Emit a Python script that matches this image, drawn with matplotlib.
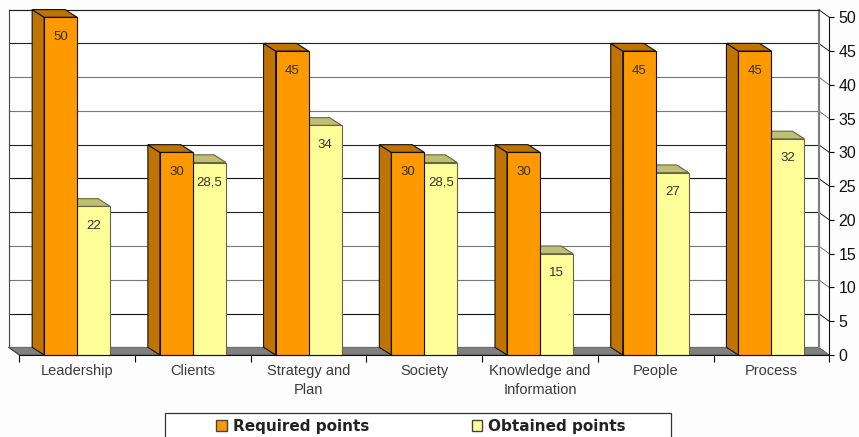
import matplotlib
matplotlib.use('Agg')
import matplotlib.pyplot as plt
from matplotlib.patches import Patch, Rectangle

plt.rcParams['font.family'] = ['Liberation Sans', 'DejaVu Sans']

# chart data
categories = ['Leadership', 'Clients', 'Strategy and\nPlan', 'Society',
              'Knowledge and\nInformation', 'People', 'Process']
required = [50, 30, 45, 30, 30, 45, 45]
obtained = [22, 28.5, 34, 28.5, 15, 27, 32]
y_ticks = [0, 5, 10, 15, 20, 25, 30, 35, 40, 45, 50]
grid_colors = ['#222222', '#111111', '#777777', '#777777', '#222222',
               '#111111', '#222222', '#777777', '#777777', '#222222', '#222222']

W, H = 859, 437
fig = plt.figure(figsize=(W / 100, H / 100), dpi=100, facecolor='#fdfdfd')
# front plane of the 3d box
left, right, bottom, top = 19.3, 829.3, 355.0, 17.3
ax = fig.add_axes([left / W, 1 - bottom / H, (right - left) / W, (bottom - top) / H])
ax.set_xlim(0, len(categories))
ax.set_ylim(0, 50)
ax.patch.set_visible(False)

# depth of the box and bars, in data units
dx = -10.6 / (right - left) * len(categories)
dy = 7.7 / (bottom - top) * 50
bdx = -12 / (right - left) * len(categories)
bar_w = 33 / (right - left) * len(categories)
n = len(categories)


def poly(xs, ys, face, edge=None, lw=0.8, z=2):
    ax.fill(xs, ys, facecolor=face, edgecolor=edge if edge else face, linewidth=lw,
            zorder=z, clip_on=False, joinstyle='miter')


# back wall, right wall, floor
poly([dx, n + dx, n + dx, dx], [dy, dy, 50 + dy, 50 + dy], 'white', 'none', z=0)
poly([n + dx, n, n, n + dx], [dy, 0, 50, 50 + dy], 'white', 'none', z=0)
poly([dx, n + dx, n, 0], [dy, dy, 0, 0], '#808080', '#555555', 0.6, z=1)

for t, c in zip(y_ticks[1:], grid_colors[1:]):
    ax.plot([dx, n + dx], [t + dy, t + dy], color=c, lw=0.8, zorder=1, clip_on=False)
    ax.plot([n + dx, n], [t + dy, t], color=c, lw=0.7, zorder=1, clip_on=False)
ax.plot([dx, dx], [dy, 50 + dy], color='#444444', lw=0.8, zorder=1, clip_on=False)
ax.plot([n + dx, n + dx], [dy, 50 + dy], color='#808080', lw=1.6, zorder=1, clip_on=False)
ax.plot([dx, 0], [dy, 0], color='#444444', lw=0.7, zorder=1, clip_on=False)


def bar3d(x0, v, front, dark, edge, z):
    x1 = x0 + bar_w
    # side and top faces, then the front
    poly([x0 + bdx, x0, x0, x0 + bdx], [dy, 0, v, v + dy], dark, edge, 0.8, z)
    poly([x0 + bdx, x1 + bdx, x1, x0], [v + dy, v + dy, v, v], dark, edge, 0.8, z)
    poly([x0, x1, x1, x0], [0, 0, v, v], front, edge, 0.8, z + 0.1)


for i in range(n):
    center = i + 0.5
    # the shorter series sits behind, so it goes first
    bar3d(center, obtained[i], '#ffff99', '#bfbf73', '#666644', 3)
    bar3d(center - bar_w, required[i], '#ff9900', '#bf7300', '#111111', 4)
    ax.text(center - bar_w / 2, required[i] - 2.9, str(required[i]), ha='center', va='center',
            fontsize=9.5, color='#333311', zorder=6)
    ax.text(center + bar_w / 2, obtained[i] - 2.9, str(obtained[i]).replace('.', ','),
            ha='center', va='center', fontsize=9.5, color='#333333', zorder=6)

# axes and ticks
for s in ['top', 'left']:
    ax.spines[s].set_visible(False)
ax.spines['bottom'].set_color('#111111')
ax.spines['right'].set_color('#111111')
ax.spines['bottom'].set_zorder(7)
ax.yaxis.tick_right()
ax.set_yticks(y_ticks)
ax.tick_params(axis='y', length=3.5, width=0.8, pad=3, labelsize=11.5, labelcolor='#111111')
ax.set_xticks(range(n + 1))
ax.set_xticklabels([])
ax.tick_params(axis='x', length=5, width=0.8)
for i, c in enumerate(categories):
    ax.text(i + 0.5, -1.35, c, ha='center', va='top', fontsize=10.5, color='#3a3a3a',
            linespacing=1.4, clip_on=False)
ax.plot([dx, n + dx], [50 + dy, 50 + dy], color='#222222', lw=0.8, zorder=1, clip_on=False)

# legend box runs off the bottom edge of the figure
fig.add_artist(Rectangle((165 / W, -0.02), 506 / W, 1 - 413 / H + 0.02, transform=fig.transFigure,
                         facecolor='white', edgecolor='#333333', linewidth=0.9))
handles = [Patch(facecolor='#ff9900', edgecolor='#444444', label='Required points'),
           Patch(facecolor='#ffff99', edgecolor='#444444', label='Obtained points')]
leg = fig.legend(handles=handles, ncol=2, loc='center left',
                 bbox_to_anchor=(216 / W, 1 - 426 / H), frameon=False,
                 prop={'family': 'DejaVu Sans', 'weight': 'bold', 'size': 11},
                 handlelength=0.7, handleheight=0.7, handletextpad=0.4, columnspacing=6.7,
                 borderpad=0, borderaxespad=0, labelcolor='#222222')

fig.savefig('out.png', dpi=100, facecolor=fig.get_facecolor())
